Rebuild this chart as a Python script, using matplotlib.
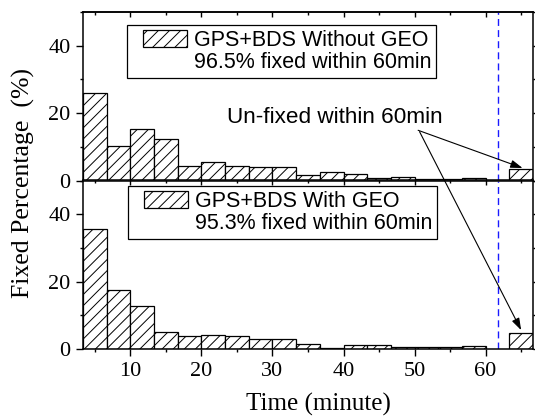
import numpy as np
import matplotlib
matplotlib.use("Agg")
import matplotlib.pyplot as plt
from matplotlib.patches import Rectangle
from matplotlib.legend_handler import HandlerPatch
from matplotlib.ticker import MultipleLocator

# ---- data ----
bin_width = 10 / 3
bin_left = np.arange(1, 18) * bin_width          # 3.33 ... 56.67 (minutes)
unfixed_left = 63.33                              # "un-fixed within 60 min" bin

without_geo = [26.0, 10.25, 15.4, 12.4, 4.4, 5.6, 4.4, 3.9, 4.0, 1.7, 2.6, 2.0,
               0.8, 1.1, 0.5, 0.5, 0.7]
without_geo_unfixed = 3.5
with_geo = [35.5, 17.4, 12.8, 5.0, 3.8, 4.2, 4.0, 3.0, 3.0, 1.4, 0.2, 1.1,
            1.1, 0.7, 0.7, 0.5, 0.8]
with_geo_unfixed = 4.7

labels_top = ["GPS+BDS Without GEO", "96.5% fixed within 60min"]
labels_bot = ["GPS+BDS With GEO", "95.3% fixed within 60min"]
xticks = [10, 20, 30, 40, 50, 60]
yticks = [0, 20, 40]
cutoff = 61.7

plt.rcParams['hatch.linewidth'] = 0.7
SERIF = ['Liberation Serif', 'DejaVu Serif']
SANS = ['Liberation Sans', 'DejaVu Sans']

fig = plt.figure(figsize=(5.35, 4.18), dpi=100)
L, R = 83 / 535, 533 / 535
T, M, B = 1 - 12 / 418, 1 - 180.5 / 418, 1 - 349 / 418
ax1 = fig.add_axes([L, M, R - L, T - M])
ax2 = fig.add_axes([L, B, R - L, M - B])


def style(ax, show_xlabels):
    ax.set_xlim(10 / 3, 66.67)
    ax.set_ylim(0, 50)
    ax.set_xticks(xticks)
    ax.set_yticks(yticks)
    ax.xaxis.set_minor_locator(MultipleLocator(5))
    ax.yaxis.set_minor_locator(MultipleLocator(10))
    ax.tick_params(axis='both', which='major', direction='out', length=5,
                   width=1, labelsize=16, pad=4)
    ax.tick_params(axis='both', which='minor', direction='out', length=2.5,
                   width=1)
    ax.tick_params(axis='y', which='both', right=True, left=True)
    ax.tick_params(axis='x', which='both', top=False, bottom=True,
                   labelbottom=show_xlabels)
    for lab in ax.get_xticklabels() + ax.get_yticklabels():
        lab.set_family(SERIF)
    for s in ax.spines.values():
        s.set_linewidth(1.1)
    sec = ax.secondary_xaxis('top')
    sec.set_xticks(xticks)
    sec.xaxis.set_minor_locator(MultipleLocator(5))
    sec.tick_params(which='major', direction='in', length=3.6, width=1,
                    labeltop=False)
    sec.tick_params(which='minor', direction='in', length=2.2, width=1)
    sec.spines['top'].set_linewidth(1.1)
    ax.axvline(cutoff, color='#1a1aff', lw=1.0, ls=(0, (5, 3)), zorder=1)


def bars(ax, vals, unfixed):
    ax.bar(bin_left, vals, width=bin_width, align='edge', facecolor='white',
           edgecolor='black', hatch='///', lw=0.9, zorder=2)
    ax.bar([unfixed_left], [unfixed], width=bin_width, align='edge',
           facecolor='white', edgecolor='black', hatch='///', lw=0.9, zorder=2)


def offset_patch(legend, orig_handle, xdescent, ydescent, width, height, fontsize):
    off = width * 0.21
    return Rectangle((-xdescent + off, -ydescent), width - off, height)


def legend(ax, labels, anchor):
    h1 = Rectangle((0, 0), 1, 1, facecolor='white', edgecolor='black',
                   hatch='///', lw=0.9)
    h2 = Rectangle((0, 0), 1, 1, visible=False)
    lg = ax.legend([h1, h2], labels, loc='upper left', bbox_to_anchor=anchor,
                   borderaxespad=0, prop={'family': SANS, 'size': 15.5},
                   handlelength=2.6, handleheight=0.88, handletextpad=0.31,
                   labelspacing=0.05, borderpad=0.22, fancybox=False,
                   framealpha=1, edgecolor='black',
                   handler_map={h1: HandlerPatch(patch_func=offset_patch)})
    lg.get_frame().set_linewidth(0.9)


bars(ax1, without_geo, without_geo_unfixed)
bars(ax2, with_geo, with_geo_unfixed)
style(ax1, False)
style(ax2, True)
legend(ax1, labels_top, (0.097, 0.923))
legend(ax2, labels_bot, (0.099, 0.967))

ax2.set_xlabel("Time (minute)", family=SERIF, fontsize=18, labelpad=8)
ax2.xaxis.set_label_coords(0.524, -0.258)
fig.text(0.044, (B + T) / 2 - 0.005, "Fixed Percentage  (%)", rotation=90,
         ha='center', va='center', family=SERIF, fontsize=18.5)

ax1.text(23.6, 18.8, "Un-fixed within 60min", family=SANS, fontsize=16.2,
         ha='left', va='center')
arrow = dict(arrowstyle='-|>,head_length=0.6,head_width=0.2', color='black',
             lw=0.8, mutation_scale=12, shrinkA=0, shrinkB=0)
ax1.annotate("", xy=(65.2, 3.7), xytext=(50.5, 14.9), arrowprops=arrow)
ax2.annotate("", xy=(65.0, 5.6), xycoords='data', xytext=(50.7, 14.5),
             textcoords=ax1.transData, arrowprops=arrow, annotation_clip=False)

fig.savefig("out.png", dpi=100)
